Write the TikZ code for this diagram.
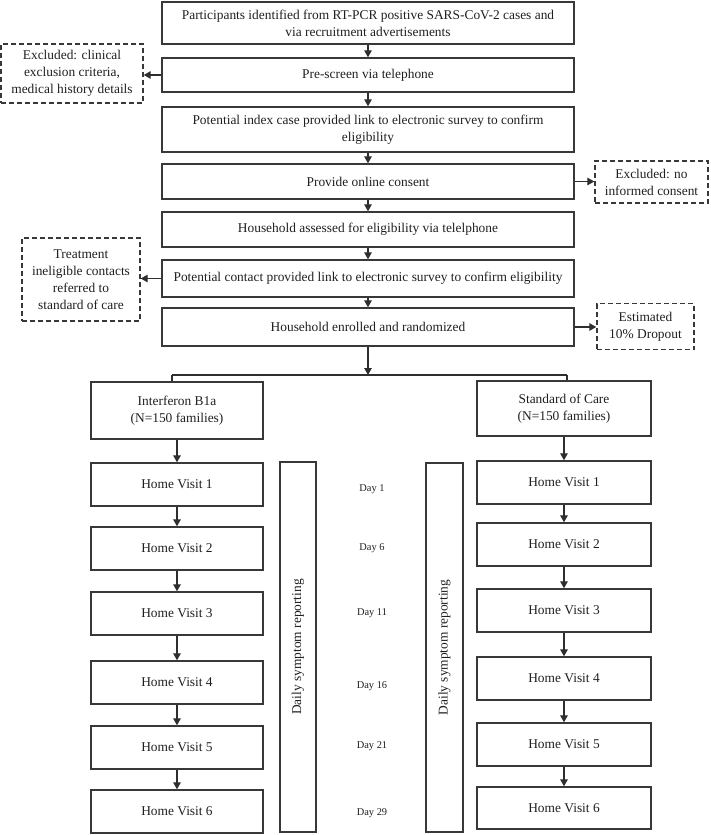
\documentclass[tikz,border=0pt]{standalone}
\usepackage{fontspec}
\setmainfont{Liberation Serif}
\usetikzlibrary{arrows.meta}
\begin{document}
\begin{tikzpicture}[x=1pt,y=-1pt,
  every node/.style={font=\fontsize{13.4}{17}\selectfont, text=black!88},
  box/.style={draw=black!78, line width=1.4pt, inner sep=0pt, align=center},
  dbox/.style={box, dash pattern=on 5pt off 3pt},
  arr/.style={draw=black!82, line width=1.3pt, -{Triangle[length=7pt,width=7.5pt]}},
  ln/.style={draw=black!82, line width=1.3pt},
  day/.style={font=\fontsize{10.4}{12}\selectfont}
]
\useasboundingbox (0,0) rectangle (710,835);
% main column
\node[box, minimum width=412pt, minimum height=42pt] (b1) at (368,23) {Participants identified from RT-PCR positive SARS-CoV-2 cases and\\via recruitment advertisements};
\node[box, minimum width=412pt, minimum height=34pt] (pre) at (368,75) {Pre-screen via telephone};
\node[box, minimum width=412pt, minimum height=45pt] (idx) at (368,129.5) {Potential index case provided link to electronic survey to confirm\\eligibility};
\node[box, minimum width=412pt, minimum height=35pt] (con) at (368,181.5) {Provide online consent};
\node[box, minimum width=412pt, minimum height=35pt] (ass) at (368,229.5) {Household assessed for eligibility via telelphone};
\node[box, minimum width=412pt, minimum height=37pt] (cont) at (368,278.5) {Potential contact provided link to electronic survey to confirm eligibility};
\node[box, minimum width=412pt, minimum height=38pt] (enr) at (368,327) {Household enrolled and randomized};
% side boxes
\node[dbox, minimum width=142pt, minimum height=59pt] (ex1) at (72,73.5) {Excluded: clinical\\exclusion criteria,\\medical history details};
\node[dbox, minimum width=113pt, minimum height=42pt] (ex2) at (651.5,182) {Excluded: no\\informed consent};
\node[dbox, minimum width=118pt, minimum height=83pt] (tr) at (81,279.5) {Treatment\\ineligible contacts\\referred to\\standard of care};
\node[dbox, minimum width=97pt, minimum height=46pt] (est) at (645.5,326.5) {Estimated\\10\% Dropout};
% main arrows
\draw[arr] (b1) -- (pre);
\draw[arr] (pre) -- (idx);
\draw[arr] (idx) -- (con);
\draw[arr] (con) -- (ass);
\draw[arr] (ass) -- (cont);
\draw[arr] (cont) -- (enr);
\draw[arr] (pre.west) -- (pre.west -| ex1.east);
\draw[arr] (con.east) -- (con.east -| ex2.west);
\draw[arr] (cont.west) -- (cont.west -| tr.east);
\draw[arr] (enr.east) -- (enr.east -| est.west);
% split
\coordinate (sp) at (368,375);
\coordinate (sl) at (172,375);
\coordinate (sr) at (567,375);
\node[box, minimum width=172pt, minimum height=57pt] (inter) at (177,410.5) {Interferon B1a\\(N=150 families)};
\node[box, minimum width=174pt, minimum height=55pt] (soc) at (564,408.5) {Standard of Care\\(N=150 families)};
\draw[arr] (enr) -- (sp);
\draw[ln] (sl) -- (sr);
\draw[ln] (sl) -- (sl |- inter.north);
\draw[ln] (sr) -- (sr |- soc.north);
% left column
\node[box, minimum width=172pt, minimum height=43pt] (l1) at (177,484.5) {Home Visit 1};
\node[box, minimum width=172pt, minimum height=43pt] (l2) at (177,548.5) {Home Visit 2};
\node[box, minimum width=172pt, minimum height=43pt] (l3) at (177,613.5) {Home Visit 3};
\node[box, minimum width=172pt, minimum height=43pt] (l4) at (177,682.5) {Home Visit 4};
\node[box, minimum width=172pt, minimum height=43pt] (l5) at (177,747.5) {Home Visit 5};
\node[box, minimum width=172pt, minimum height=43pt] (l6) at (177,811.5) {Home Visit 6};
\draw[arr] (inter) -- (l1);
\draw[arr] (l1) -- (l2);
\draw[arr] (l2) -- (l3);
\draw[arr] (l3) -- (l4);
\draw[arr] (l4) -- (l5);
\draw[arr] (l5) -- (l6);
% right column
\node[box, minimum width=174pt, minimum height=43pt] (r1) at (564,482.5) {Home Visit 1};
\node[box, minimum width=174pt, minimum height=43pt] (r2) at (564,544.5) {Home Visit 2};
\node[box, minimum width=174pt, minimum height=43pt] (r3) at (564,610.5) {Home Visit 3};
\node[box, minimum width=174pt, minimum height=43pt] (r4) at (564,678.5) {Home Visit 4};
\node[box, minimum width=174pt, minimum height=43pt] (r5) at (564,744.5) {Home Visit 5};
\node[box, minimum width=174pt, minimum height=42pt] (r6) at (564,808) {Home Visit 6};
\draw[arr] (soc) -- (r1);
\draw[arr] (r1) -- (r2);
\draw[arr] (r2) -- (r3);
\draw[arr] (r3) -- (r4);
\draw[arr] (r4) -- (r5);
\draw[arr] (r5) -- (r6);
% bars
\node[box, rotate=90, minimum width=370pt, minimum height=36pt] (barL) at (298,647) {Daily symptom reporting};
\node[box, rotate=90, minimum width=369pt, minimum height=37pt] (barR) at (444.5,647.5) {Daily symptom reporting};
% days
\node[day] (d1) at (372,489) {Day 1};
\node[day] (d6) at (372,548) {Day 6};
\node[day] (d11) at (372,613) {Day 11};
\node[day] (d16) at (372,686) {Day 16};
\node[day] (d21) at (372,746) {Day 21};
\node[day] (d29) at (372,813) {Day 29};
\end{tikzpicture}
\end{document}
